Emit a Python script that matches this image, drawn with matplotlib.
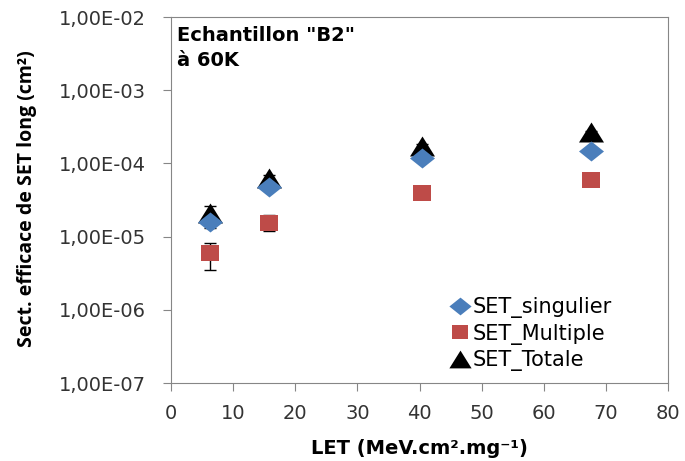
import numpy as np
import matplotlib.pyplot as plt
from matplotlib.lines import Line2D
from matplotlib.ticker import FixedLocator, FuncFormatter, NullLocator

plt.rcParams['font.family'] = ['DejaVu Sans']

# LET (MeV.cm2.mg-1)
let = [6.2, 15.8, 40.4, 67.6]

# cross sections (cm2)
singulier = [1.6e-5, 4.8e-5, 1.17e-4, 1.5e-4]
multiple = [6.0e-6, 1.55e-5, 3.9e-5, 5.9e-5]
totale = [2.1e-5, 6.4e-5, 1.75e-4, 2.65e-4]

# error bars (lower, upper)
sing_err = [[0.3e-5, 0.5e-5, 0.1e-4, 0.1e-4], [0.3e-5, 0.5e-5, 0.1e-4, 0.1e-4]]
mult_err = [[2.5e-6, 0.35e-5, 0.6e-5, 0.5e-5], [2.3e-6, 0.4e-5, 0.4e-5, 0.4e-5]]
tot_err = [[0.3e-5, 0.6e-5, 0.1e-4, 0.1e-4], [0.5e-5, 0.6e-5, 0.1e-4, 0.15e-4]]

blue = '#4a7ebb'
red = '#be4b48'
grey = '#868686'

# the markers in the original are a bit wider than tall
diamond = [(-1.25, 0), (0, 1), (1.25, 0), (0, -1), (-1.25, 0)]
square = [(-1.15, -1), (1.15, -1), (1.15, 1), (-1.15, 1), (-1.15, -1)]
triangle = [(-1.25, -1), (0, 1), (1.25, -1), (-1.25, -1)]

fig = plt.figure(figsize=(6.85, 4.61), dpi=100)
ax = fig.add_axes([0.25, 0.169, 0.725, 0.794])

ax.errorbar(let, singulier, yerr=sing_err, fmt='none', ecolor='black',
            elinewidth=1, capsize=4.5, zorder=2)
ax.errorbar(let, multiple, yerr=mult_err, fmt='none', ecolor='black',
            elinewidth=1, capsize=4.5, zorder=2)
ax.errorbar(let, totale, yerr=tot_err, fmt='none', ecolor='black',
            elinewidth=1, capsize=4.5, zorder=2)
ax.plot(let, totale, ls='none', marker=triangle, ms=18, color='black', mew=0, zorder=3)
ax.plot(let, singulier, ls='none', marker=diamond, ms=18, color=blue, mew=0, zorder=4)
ax.plot(let, multiple, ls='none', marker=square, ms=12.5, color=red, mew=0, zorder=4)

ax.set_yscale('log')
ax.set_xlim(0, 80)
ax.set_ylim(1e-7, 1e-2)
ax.set_xticks(np.arange(0, 81, 10))
ax.yaxis.set_major_locator(FixedLocator([1e-7, 1e-6, 1e-5, 1e-4, 1e-3, 1e-2]))
ax.yaxis.set_minor_locator(NullLocator())
ax.yaxis.set_major_formatter(FuncFormatter(lambda v, p: '1,00E-%02d' % round(-np.log10(v))))

for s in ax.spines.values():
    s.set_color(grey)
ax.tick_params(direction='out', color=grey, labelcolor='#333333', labelsize=14, length=6)
ax.tick_params(axis='y', pad=12)
ax.tick_params(axis='x', pad=9)

ax.set_xlabel('LET (MeV.cm².mg⁻¹)', fontsize=14, fontweight='bold')
ax.set_ylabel('Sect. efficace de SET long (cm²)', fontsize=14, fontweight='bold',
              family=['Open Sans', 'DejaVu Sans'])
ax.xaxis.set_label_coords(0.5, -0.152)
ax.yaxis.set_label_coords(-0.27, 0.505)

ax.text(0.012, 0.975, 'Echantillon "B2"\nà 60K', transform=ax.transAxes,
        fontsize=14, fontweight='bold', va='top', ha='left', linespacing=1.4)

handles = [
    Line2D([], [], marker=diamond, color=blue, ls='none', ms=16, mew=0),
    Line2D([], [], marker=square, color=red, ls='none', ms=11.5, mew=0),
    Line2D([], [], marker=triangle, color='black', ls='none', ms=16, mew=0),
]
labels = ['SET_singulier', 'SET_Multiple', 'SET_Totale']
ax.legend(handles, labels, loc='lower right', bbox_to_anchor=(0.92, -0.012), frameon=False,
          fontsize=15, handletextpad=0.05, handlelength=1.1, labelspacing=0.25,
          borderpad=0.3)

fig.savefig('out.png', dpi=100)
